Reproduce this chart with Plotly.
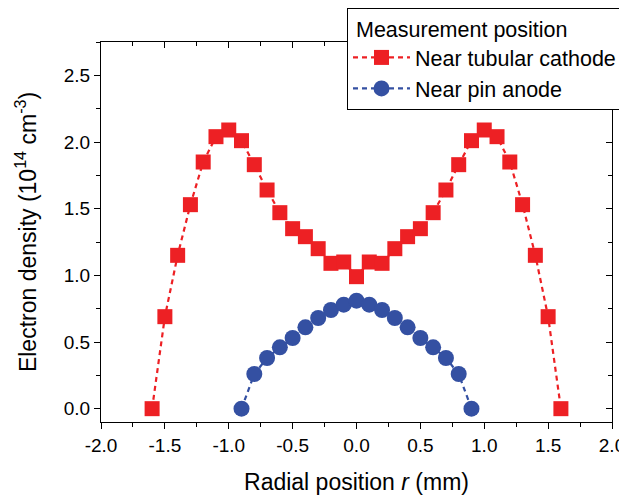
import plotly.graph_objects as go

r_cathode = [-1.6, -1.5, -1.4, -1.3, -1.2, -1.1, -1.0, -0.9, -0.8, -0.7, -0.6, -0.5, -0.4, -0.3, -0.2, -0.1,
             0.0, 0.1, 0.2, 0.3, 0.4, 0.5, 0.6, 0.7, 0.8, 0.9, 1.0, 1.1, 1.2, 1.3, 1.4, 1.5, 1.6]
ne_cathode = [0.0, 0.69, 1.15, 1.53, 1.85, 2.04, 2.09, 2.01, 1.83, 1.64, 1.47, 1.35, 1.29, 1.20, 1.09, 1.10,
              0.99, 1.10, 1.09, 1.20, 1.29, 1.35, 1.47, 1.64, 1.83, 2.01, 2.09, 2.04, 1.85, 1.53, 1.15, 0.69, 0.0]

r_anode = [-0.9, -0.8, -0.7, -0.6, -0.5, -0.4, -0.3, -0.2, -0.1, 0.0,
           0.1, 0.2, 0.3, 0.4, 0.5, 0.6, 0.7, 0.8, 0.9]
ne_anode = [0.0, 0.26, 0.38, 0.46, 0.53, 0.61, 0.68, 0.74, 0.78, 0.81,
            0.78, 0.74, 0.68, 0.61, 0.53, 0.46, 0.38, 0.26, 0.0]

x_ticks = [-2.0, -1.5, -1.0, -0.5, 0.0, 0.5, 1.0, 1.5, 2.0]
y_ticks = [0.0, 0.5, 1.0, 1.5, 2.0, 2.5]

RED = "#ED2024"
BLUE = "#3450A2"
FONT = "Liberation Sans, Arial, sans-serif"

W, H = 619, 489  # page body adds an 8px offset

fig = go.Figure()
fig.add_trace(go.Scatter(
    x=r_cathode, y=ne_cathode, mode="lines+markers", name="Near tubular cathode",
    line=dict(color=RED, width=2.2, dash="5px,4px"),
    marker=dict(symbol="square", size=15, color=RED),
))
fig.add_trace(go.Scatter(
    x=r_anode, y=ne_anode, mode="lines+markers", name="Near pin anode",
    line=dict(color=BLUE, width=2.2, dash="5px,4px"),
    marker=dict(symbol="circle", size=16, color=BLUE),
))

xr = [-2.0, 2.0]
yr = [-0.1, 2.75]

common = dict(showgrid=False, zeroline=False, showline=True, linecolor="black", linewidth=1.3,
              tickwidth=1.3, tickcolor="black", ticklen=6, automargin=False)
minor_out = dict(ticks="outside", ticklen=3.5, dtick=0.25, tick0=0, tickcolor="black", tickwidth=1.3)
minor_in = dict(ticks="inside", ticklen=3.5, dtick=0.25, tick0=0, tickcolor="black", tickwidth=1.3)

fig.update_layout(
    width=W, height=H,
    margin=dict(l=93, r=15, t=34, b=75, autoexpand=False),
    paper_bgcolor="white", plot_bgcolor="white",
    font=dict(family=FONT, size=19, color="black"),
    showlegend=True,
    legend=dict(
        title=dict(text="\u00a0Measurement position", font=dict(size=21.5)),
        x=339 / W, y=1.0, xref="container", yref="container",
        xanchor="left", yanchor="top",
        bgcolor="white", bordercolor="black", borderwidth=1,
        font=dict(size=21.5), itemwidth=57, tracegroupgap=0,
    ),
    xaxis=dict(
        range=xr, tickvals=x_ticks, ticktext=[f"{v:.1f}" for v in x_ticks],
        ticks="outside", minor=minor_out,
        title=dict(text="Radial position <i>r</i> (mm)", font=dict(size=23), standoff=18),
        tickfont=dict(size=19), **common,
    ),
    yaxis=dict(
        range=yr, tickvals=y_ticks, ticktext=[f"{v:.1f}" for v in y_ticks],
        ticks="outside", minor=minor_out,
        title=dict(text="Electron density (10<sup>14</sup> cm<sup>-3</sup>)", font=dict(size=23), standoff=20),
        tickfont=dict(size=19), **common,
    ),
    xaxis2=dict(
        range=xr, overlaying="x", side="top", tickvals=x_ticks, showticklabels=False,
        ticks="inside", minor=minor_in, anchor="y", **common,
    ),
    yaxis2=dict(
        range=yr, overlaying="y", side="right", tickvals=y_ticks, showticklabels=False,
        ticks="inside", minor=minor_in, anchor="x", **common,
    ),
)
# invisible trace to activate the secondary axes frame
fig.add_trace(go.Scatter(x=[0], y=[0], xaxis="x2", yaxis="y2", mode="markers",
                         marker=dict(opacity=0), showlegend=False, hoverinfo="skip"))

fig.write_html("out.html")
